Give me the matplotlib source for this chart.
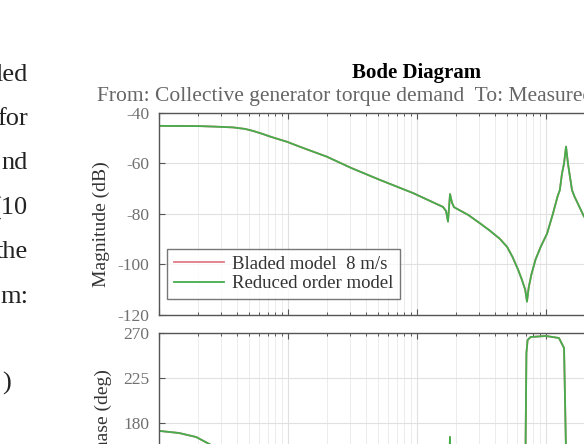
import matplotlib
matplotlib.use("Agg")
import matplotlib.pyplot as plt
from matplotlib.ticker import LogLocator, NullFormatter

plt.rcParams['font.family'] = ['Liberation Serif', 'DejaVu Serif']

# frequency (rad/s) and magnitude (dB)
mag_freq = [0.0102, 0.0208, 0.0272, 0.0375, 0.0464, 0.0536, 0.0628, 0.0724, 0.0835,
            0.0983, 0.124, 0.200, 0.310, 0.516, 0.931, 1.59, 1.678, 1.739, 1.803, 1.867,
            1.936, 2.5, 3.08, 3.63, 4.38, 4.99, 5.5, 6.07, 6.5, 6.9, 7.12, 7.35, 7.7,
            8.3, 9.1, 10.2, 11.3, 12.3, 12.8, 13.3, 13.8, 14.3, 14.8, 15.1, 15.9,
            16.6, 19.7, 26.2, 53.6, 102]
mag_db = [-45.1, -45.2, -45.4, -45.7, -46.3, -47.1, -48.2, -49.3, -50.3,
          -51.4, -53.4, -57.3, -61.8, -66.5, -71.7, -77.2, -78.8, -83.0, -72.1, -75.5,
          -77.3, -80.4, -83.7, -86.4, -89.8, -93.0, -97, -102, -106, -110, -114.7,
          -109, -104, -98, -93, -87.7, -80, -73, -70.5, -64, -60, -53.3, -60, -63,
          -70.5, -73, -81, -88, -98, -106]

# phase (deg)
ph_freq = [0.0102, 0.0143, 0.0194, 0.0245, 0.035, 0.085, 0.25, 1.0, 1.68, 1.77,
           1.80, 1.84, 1.90, 3.0, 6.0, 6.9, 7.05, 7.2, 7.6, 10.0, 12.6, 13.8,
           14.3, 14.6, 20.0, 102]
ph_deg = [172, 170, 166, 159, 148, 130, 112, 100, 98, 97,
          166, 100, 99, 95, 92, 120, 250, 263, 266, 267, 265, 255,
          150, 92, 90, 90]

legend_labels = ['Bladed model  8 m/s', 'Reduced order model']
body_words = ['led', 'for', 'nd', '(10', 'the', 'm:']
body_y = [75, 119, 163, 208, 252, 297]

W, H = 584, 444
fig = plt.figure(figsize=(W / 100, H / 100), dpi=100)


def px_rect(left, top, right, bottom):
    return [left / W, 1 - bottom / H, (right - left) / W, (bottom - top) / H]


ax1 = fig.add_axes(px_rect(159, 113, 675, 315))
ax2 = fig.add_axes(px_rect(159, 333, 675, 497))

red, green = '#e07b86', '#45ad4b'
ax1.plot(mag_freq, mag_db, color=red, lw=1.3, label=legend_labels[0])
ax1.plot(mag_freq, mag_db, color=green, lw=1.3, label=legend_labels[1])
ax2.plot(ph_freq, ph_deg, color=red, lw=1.3)
ax2.plot(ph_freq, ph_deg, color=green, lw=1.3)

ax1.set_ylim(-120, -40)
ax1.set_yticks([-120, -100, -80, -60, -40])
ax1.set_yticklabels(['-120', '-100', '-80', '-60', '-40'])
ax2.set_ylim(106, 270)
ax2.set_yticks([135, 180, 225, 270])

for ax in (ax1, ax2):
    ax.set_xscale('log')
    ax.set_xlim(0.01, 100)
    ax.xaxis.set_minor_locator(LogLocator(base=10, subs=range(2, 10), numticks=20))
    ax.xaxis.set_minor_formatter(NullFormatter())
    ax.xaxis.set_major_formatter(NullFormatter())
    ax.grid(True, which='major', color='#e0e0e0', lw=0.8)
    ax.grid(True, which='minor', axis='x', color='#ececec', lw=0.7)
    ax.set_axisbelow(True)
    ax.tick_params(which='both', direction='in', top=True, right=True,
                   colors='#555555', labelcolor='#707070', labelsize=12.5, pad=7)
    ax.tick_params(which='major', length=4, width=0.8)
    ax.tick_params(which='minor', length=2.5, width=0.7)
    for s in ax.spines.values():
        s.set_color('#555555')
        s.set_linewidth(1.0)

leg = ax1.legend(loc='lower left', bbox_to_anchor=(0.0155, 0.079), borderaxespad=0,
                 fontsize=13.5, frameon=True, fancybox=False, handlelength=2.7,
                 handletextpad=0.4, borderpad=0.35, labelspacing=0.15)
leg.get_frame().set_edgecolor('#555555')
leg.get_frame().set_linewidth(1.0)
for t in leg.get_texts():
    t.set_color('#333333')

fig.text(417 / W, 1 - 73 / H, 'Bode Diagram', ha='center', va='center',
         fontsize=15, fontweight='bold', color='black')
fig.text(97 / W, 1 - 97 / H,
         'From: Collective generator torque demand  To: Measured generator speed',
         ha='left', va='center', fontsize=15.5, color='#666666')
fig.text(101 / W, 1 - 224 / H, 'Magnitude (dB)', rotation=90, ha='center',
         va='center', fontsize=14, color='#333333')
fig.text(103 / W, 1 - 415 / H, 'Phase (deg)', rotation=90, ha='center',
         va='center', fontsize=14, color='#333333')

# fragments of the surrounding page text
for word, y in zip(body_words, body_y):
    fig.text(28 / W, 1 - y / H, word, ha='right', va='center', fontsize=19,
             color='#222222')
fig.text(2 / W, 1 - 383 / H, ')', ha='left', va='center', fontsize=19,
         color='#222222')

fig.savefig('out.png', dpi=100)
